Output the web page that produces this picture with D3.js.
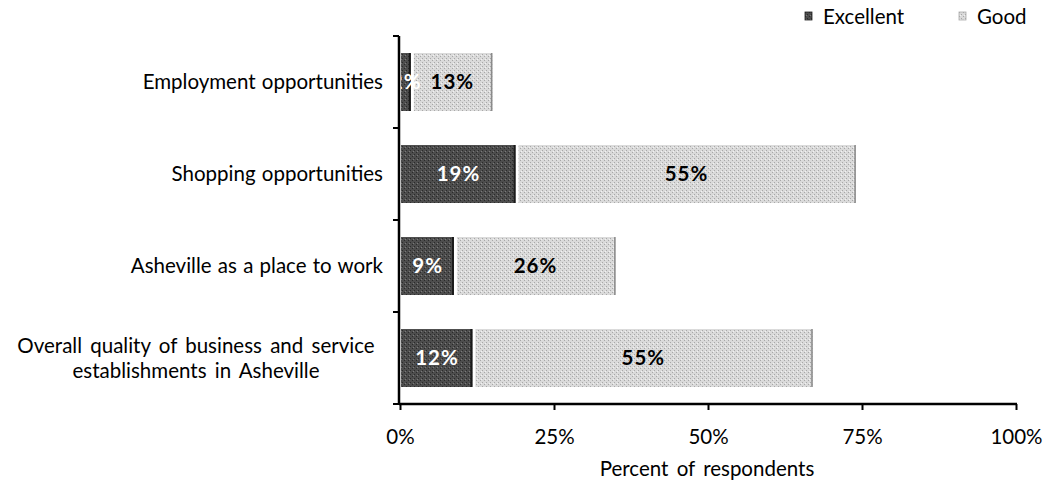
<!DOCTYPE html>
<html>
<head>
<meta charset="utf-8">
<script src="https://cdn.jsdelivr.net/npm/d3@7"></script>
<style>
  body { margin: 0; background: #fff; }
  svg { display: block; font-family: Lato, "Open Sans", sans-serif; }
</style>
</head>
<body>
<svg id="chart" width="1047" height="486"></svg>
<script>
// Ratings of business-related aspects of the city (percent of respondents)
const categories = [
  ["Employment opportunities"],
  ["Shopping opportunities"],
  ["Asheville as a place to work"],
  ["Overall quality of business and service", "establishments in Asheville"]
];
const excellent = [2, 19, 9, 12];
const good = [13, 55, 26, 55];
const seriesNames = ["Excellent", "Good"];
const xTicks = [0, 25, 50, 75, 100];

const svg = d3.select("#chart");
const fs = 20.5;

// Dithered-looking fills
const defs = svg.append("defs");
function grain(id, base, dot, dot2) {
  const p = defs.append("pattern").attr("id", id)
    .attr("width", 4).attr("height", 4).attr("patternUnits", "userSpaceOnUse");
  p.append("rect").attr("width", 4).attr("height", 4).attr("fill", base);
  p.append("rect").attr("x", 0).attr("y", 0).attr("width", 1).attr("height", 1).attr("fill", dot);
  p.append("rect").attr("x", 2).attr("y", 2).attr("width", 1).attr("height", 1).attr("fill", dot);
  p.append("rect").attr("x", 1).attr("y", 3).attr("width", 1).attr("height", 1).attr("fill", dot2);
}
grain("gEx", "#4d4d4d", "#2a2a2a", "#7a7a7a");
grain("gGood", "#dadada", "#a8a8a8", "#f2f2f2");

const x = d3.scaleLinear().domain([0, 100]).range([400, 1016]);
const y = d3.scaleBand().domain(categories.map((d, i) => i)).range([36, 404]).paddingInner(0.37).paddingOuter(0.185);

const rows = categories.map((c, i) => ({ i, label: c, ex: excellent[i], gd: good[i] }));

// Bars
const gap = 1.5;
const g = svg.append("g");
g.selectAll("rect.ex").data(rows).join("rect")
  .attr("x", x(0) + 1)
  .attr("y", d => y(d.i))
  .attr("width", d => x(d.ex) - x(0) - 1 - gap)
  .attr("height", y.bandwidth())
  .attr("fill", "url(#gEx)");
g.selectAll("rect.exedge").data(rows).join("rect")
  .attr("x", d => x(d.ex) - gap - 2)
  .attr("y", d => y(d.i))
  .attr("width", 2)
  .attr("height", y.bandwidth())
  .attr("fill", "#1a1a1a");
g.selectAll("rect.gd").data(rows).join("rect")
  .attr("x", d => x(d.ex) + gap)
  .attr("y", d => y(d.i))
  .attr("width", d => x(d.ex + d.gd) - x(d.ex) - gap)
  .attr("height", y.bandwidth())
  .attr("fill", "url(#gGood)");
g.selectAll("rect.gdedge").data(rows).join("rect")
  .attr("x", d => x(d.ex + d.gd) - 1.5)
  .attr("y", d => y(d.i))
  .attr("width", 1.5)
  .attr("height", y.bandwidth())
  .attr("fill", "#8a8a8a");

// Value labels
g.selectAll("text.exl").data(rows).join("text")
  .attr("x", d => x(d.ex / 2))
  .attr("y", d => y(d.i) + y.bandwidth() / 2)
  .attr("dy", "0.36em")
  .attr("text-anchor", "middle")
  .attr("font-size", fs).attr("font-weight", "bold").attr("letter-spacing", 1)
  .attr("fill", "#fff")
  .text(d => d.ex + "%");
g.selectAll("text.gdl").data(rows).join("text")
  .attr("x", d => x(d.ex + d.gd / 2))
  .attr("y", d => y(d.i) + y.bandwidth() / 2)
  .attr("dy", "0.36em")
  .attr("text-anchor", "middle")
  .attr("font-size", fs).attr("font-weight", "bold").attr("letter-spacing", 1)
  .attr("fill", "#000")
  .text(d => d.gd + "%");

// Y axis: line with ticks at category boundaries
const axisCol = "#000";
svg.append("line").attr("x1", 399).attr("x2", 399).attr("y1", 36).attr("y2", 405)
  .attr("stroke", axisCol).attr("stroke-width", 2.5);
const bounds = d3.range(categories.length + 1).map(k => 36 + k * y.step());
svg.selectAll("line.yt").data(bounds).join("line")
  .attr("x1", 393).attr("x2", 399)
  .attr("y1", d => d).attr("y2", d => d)
  .attr("stroke", axisCol).attr("stroke-width", 2);

// Category labels
const cl = svg.selectAll("text.cat").data(rows).join("text")
  .attr("font-size", fs)
  .attr("word-spacing", d => d.label.length > 1 ? 3 : 1)
  .attr("fill", "#000");
cl.each(function(d) {
  const t = d3.select(this);
  const n = d.label.length;
  d.label.forEach((line, k) => {
    t.append("tspan")
      .attr("x", n > 1 ? 196 : 383)
      .attr("text-anchor", n > 1 ? "middle" : "end")
      .attr("y", y(d.i) + y.bandwidth() / 2 + (k - (n - 1) / 2) * 25)
      .attr("dy", "0.36em")
      .text(line);
  });
});

// X axis
const xAxis = svg.append("g").attr("transform", "translate(0,404)")
  .call(d3.axisBottom(x).tickValues(xTicks).tickSize(6).tickFormat(d => d + "%"));
xAxis.select(".domain").attr("stroke", axisCol).attr("stroke-width", 2.5)
  .attr("d", `M${x(0) - 1},0H${x(100) + 1}`);
xAxis.selectAll(".tick line").attr("stroke", axisCol).attr("stroke-width", 2);
xAxis.selectAll(".tick text").attr("font-size", fs).attr("fill", "#000")
  .attr("font-family", "Lato, sans-serif").attr("y", 33).attr("dy", "0.36em");

svg.append("text").attr("x", 707).attr("y", 469).attr("dy", "0.36em")
  .attr("text-anchor", "middle").attr("font-size", fs).attr("word-spacing", 3).attr("fill", "#000")
  .text("Percent of respondents");

// Legend
const legendX = [805, 959];
const lg = svg.selectAll("g.leg").data(seriesNames).join("g")
  .attr("transform", (d, i) => `translate(${legendX[i]},12)`);
lg.append("rect").attr("width", 7).attr("height", 8)
  .attr("fill", (d, i) => i === 0 ? "url(#gEx)" : "url(#gGood)")
  .attr("stroke", (d, i) => i === 0 ? "#222" : "#aaa").attr("stroke-width", 0.8);
lg.append("text").attr("x", 18).attr("y", 5).attr("dy", "0.36em")
  .attr("font-size", fs).attr("fill", "#000")
  .text(d => d);
</script>
</body>
</html>
